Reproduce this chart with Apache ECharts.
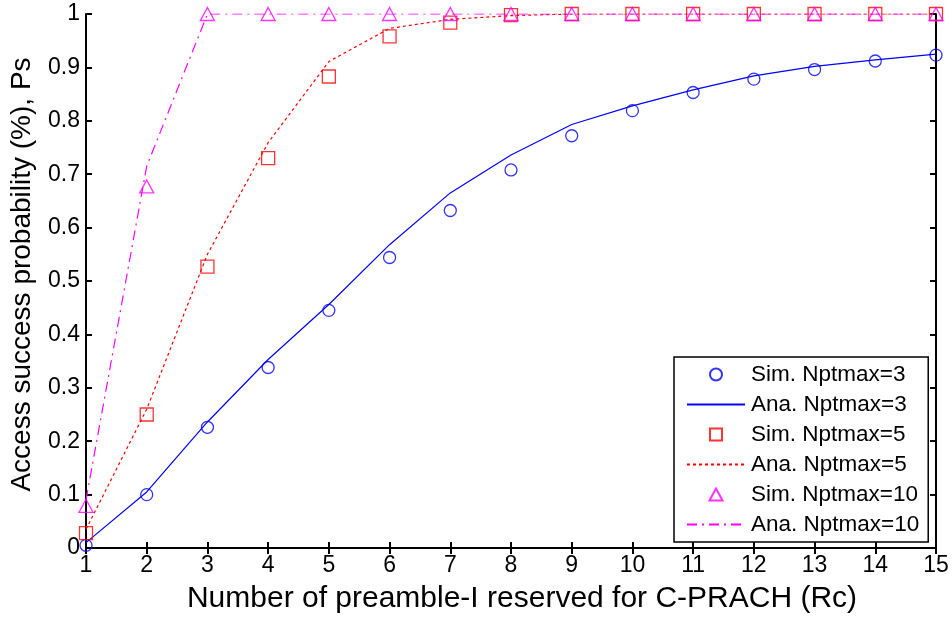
<!DOCTYPE html>
<html><head><meta charset="utf-8">
<script src="https://cdn.jsdelivr.net/npm/echarts@6/dist/echarts.min.js"></script>
<style>html,body{margin:0;padding:0;background:#fff}#c{width:952px;height:619px}</style>
</head><body><div id="c"></div>
<script>
const rc = [1,2,3,4,5,6,7,8,9,10,11,12,13,14,15];
const sim3 = [0.005,0.10,0.226,0.338,0.445,0.544,0.632,0.708,0.772,0.819,0.853,0.878,0.896,0.912,0.923];
const ana3 = [0.01,0.105,0.236,0.353,0.456,0.568,0.665,0.736,0.793,0.828,0.858,0.884,0.902,0.914,0.925];
const sim5 = [0.028,0.25,0.527,0.730,0.883,0.958,0.984,0.998,1,1,1,1,1,1,1];
const ana5 = [0.035,0.26,0.55,0.759,0.911,0.973,0.99,0.997,1,1,1,1,1,1,1];
const sim10 = [0.079,0.677,1,1,1,1,1,1,1,1,1,1,1,1,1];
const ana10 = [0.09,0.715,1,1,1,1,1,1,1,1,1,1,1,1,1];
const names = ['Sim. Nptmax=3','Ana. Nptmax=3','Sim. Nptmax=5','Ana. Nptmax=5','Sim. Nptmax=10','Ana. Nptmax=10'];
const pair = a => rc.map((x,i)=>[x,a[i]]);
const FONT = 'Liberation Sans, Arial, sans-serif';
const chart = echarts.init(document.getElementById('c'));
const axisCommon = {
  axisLine:{show:true,lineStyle:{color:'#000',width:2}},
  axisTick:{show:true,inside:true,length:6,lineStyle:{color:'#000',width:2}},
  splitLine:{show:false}
};
const hideSym = {opacity:0,color:'rgba(0,0,0,0)',borderColor:'rgba(0,0,0,0)',borderWidth:0};
chart.setOption({
  animation:false,
  backgroundColor:'#fff',
  grid:{left:85,right:16,top:14,bottom:70},
  xAxis:[
    Object.assign({type:'value',min:1,max:15,interval:1,position:'bottom',
      name:'Number of preamble-I reserved for C-PRACH (Rc)',nameLocation:'middle',nameGap:36,
      nameTextStyle:{fontFamily:FONT,fontSize:30,color:'#000',padding:[0,0,0,22]},
      axisLabel:{fontFamily:FONT,fontSize:23,color:'#000',margin:6}},axisCommon),
    Object.assign({type:'value',min:1,max:15,interval:1,position:'top',axisLabel:{show:false}},axisCommon)
  ],
  yAxis:[
    Object.assign({type:'value',min:0,max:1,interval:0.1,position:'left',
      name:'Access success probability (%), Ps',nameLocation:'middle',nameGap:50,
      nameTextStyle:{fontFamily:FONT,fontSize:28,color:'#000',padding:[0,0,0,13]},
      axisLabel:{fontFamily:FONT,fontSize:23,color:'#000',margin:6,formatter:v=>String(+v.toFixed(1))}},axisCommon),
    Object.assign({type:'value',min:0,max:1,interval:0.1,position:'right',axisLabel:{show:false}},axisCommon)
  ],
  legend:{
    orient:'vertical',left:674,top:357,
    data:[
      {name:names[0],icon:'circle'},
      {name:names[1],itemStyle:hideSym},
      {name:names[2],icon:'path://M0,0L10,0L10,10L0,10Z'},
      {name:names[3],itemStyle:hideSym},
      {name:names[4],icon:'path://M6,0L12,11L0,11Z'},
      {name:names[5],itemStyle:hideSym}
    ],
    backgroundColor:'#fff',borderColor:'#000',borderWidth:1.5,
    padding:[6,9,6,12],itemGap:7,itemWidth:58,itemHeight:12,
    textStyle:{fontFamily:FONT,fontSize:22.5,color:'#000',lineHeight:22,padding:[0,0,0,1]},
    symbolKeepAspect:true
  },
  series:[
    {name:names[0],type:'scatter',data:pair(sim3),symbol:'circle',symbolSize:12,
      itemStyle:{color:'rgba(0,0,0,0)',borderColor:'#0000ff',borderWidth:1.3},z:5},
    {name:names[1],type:'line',data:pair(ana3),showSymbol:false,symbol:'none',
      lineStyle:{color:'#0000ff',width:1.2,type:'solid'},itemStyle:{color:'#0000ff'}},
    {name:names[2],type:'scatter',data:pair(sim5),symbol:'rect',symbolSize:13,
      itemStyle:{color:'rgba(0,0,0,0)',borderColor:'#ff0000',borderWidth:1.3},z:5},
    {name:names[3],type:'line',data:pair(ana5),showSymbol:false,symbol:'none',
      lineStyle:{color:'#ff0000',width:1.2,type:[3,3]},itemStyle:{color:'#ff0000'}},
    {name:names[4],type:'scatter',data:pair(sim10),symbol:'triangle',symbolSize:[14,13],
      itemStyle:{color:'rgba(0,0,0,0)',borderColor:'#ff00ff',borderWidth:1.3},z:5},
    {name:names[5],type:'line',data:pair(ana10),showSymbol:false,symbol:'none',
      lineStyle:{color:'#ff00ff',width:1.2,type:[10,5,2,5]},itemStyle:{color:'#ff00ff'}}
  ]
});
</script></body></html>
